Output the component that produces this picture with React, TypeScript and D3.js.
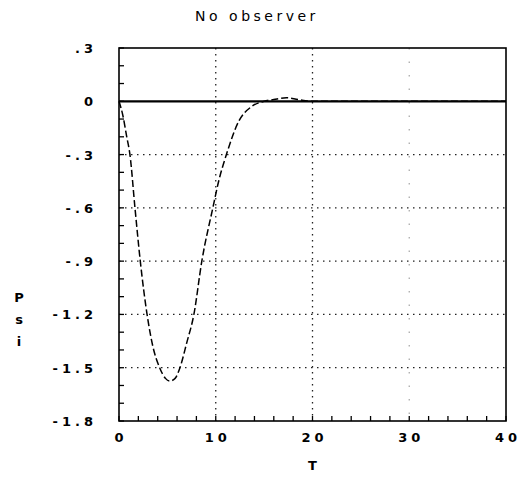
import React from "react";
import * as d3 from "d3";

const titleText = "No observer";
const xLabel = "T";
const yLabelChars = ["P", "s", "i"];

const tValues = [0, 0.4, 0.8, 1.13, 1.65, 2.2, 2.9, 3.5, 4.2, 4.8, 5.25, 5.8, 6.3, 7.0, 7.74, 8.56, 9.7, 10.3, 11.1, 12.4, 13.7, 15, 16, 17.3, 18.5, 20, 25, 30, 35, 40];
const psiValues = [0, -0.08, -0.2, -0.3, -0.6, -0.9, -1.2, -1.38, -1.5, -1.56, -1.575, -1.56, -1.5, -1.36, -1.2, -0.9, -0.6, -0.45, -0.3, -0.11, -0.03, 0, 0.01, 0.02, 0.01, 0, 0, 0, 0, 0];

const yTicks = [0.3, 0, -0.3, -0.6, -0.9, -1.2, -1.5, -1.8];
const yTickLabels = [".3", "0", "-.3", "-.6", "-.9", "-1.2", "-1.5", "-1.8"];
const xTicks = [0, 10, 20, 30, 40];
const xTickLabels = ["0", "10", "20", "30", "40"];
const yGrid = [-0.3, -0.6, -0.9, -1.2, -1.5];
const xGrid = [10, 20, 30];

export default function App() {
  const W = 524, H = 487;
  const left = 119, right = 506, top = 48, bottom = 421;
  const x = d3.scaleLinear().domain([0, 40]).range([left, right]);
  const y = d3.scaleLinear().domain([-1.8, 0.3]).range([bottom, top]);

  const pts: [number, number][] = tValues.map((t, i) => [t, psiValues[i]]);
  const line = d3
    .line<[number, number]>()
    .x((d) => x(d[0]))
    .y((d) => y(d[1]))
    .curve(d3.curveMonotoneX);

  const minorY = d3.range(-18, 4).map((v) => v / 10);
  const minorX = d3.range(0, 41, 2);
  const font = "'DejaVu Sans', sans-serif";

  return (
    <svg width={W} height={H} style={{ position: "absolute", left: 0, top: 0, background: "#fff" }}>
      <rect x={0} y={0} width={W} height={H} fill="#fff" />
      {yGrid.map((v) => (
        <line key={"gy" + v} x1={left} x2={right} y1={y(v)} y2={y(v)} stroke="#222" strokeWidth={1.3} strokeDasharray="1.5,4.5" />
      ))}
      {xGrid.map((v) => (
        <line key={"gx" + v} x1={x(v)} x2={x(v)} y1={top} y2={bottom} stroke={v === 30 ? "#aaa" : "#222"} strokeWidth={1.3} strokeDasharray={v === 30 ? "1.5,12" : "1.5,4.5"} />
      ))}
      {minorY.map((v) => (
        <line key={"ty" + v} x1={left} x2={left + 5} y1={y(v)} y2={y(v)} stroke="#000" strokeWidth={1.3} />
      ))}
      {minorX.map((v) => (
        <line key={"tx" + v} x1={x(v)} x2={x(v)} y1={bottom} y2={bottom - 5} stroke="#000" strokeWidth={1.3} />
      ))}
      <rect x={left} y={top} width={right - left} height={bottom - top} fill="none" stroke="#000" strokeWidth={1.6} />
      <line x1={left} x2={right} y1={y(0)} y2={y(0)} stroke="#000" strokeWidth={2.2} />
      <path d={line(pts) || ""} fill="none" stroke="#000" strokeWidth={1.5} strokeDasharray="7,3" />
      {yTicks.map((v, i) => (
        <text key={"yl" + v} x={97} y={y(v) + 5} textAnchor="end" fontFamily={font} fontWeight="bold" fontSize={13} letterSpacing={4} fill="#000">
          {yTickLabels[i]}
        </text>
      ))}
      {xTicks.map((v, i) => (
        <text key={"xl" + v} x={x(v) + 2} y={442} textAnchor="middle" fontFamily={font} fontWeight="bold" fontSize={13} letterSpacing={4} fill="#000">
          {xTickLabels[i]}
        </text>
      ))}
      <text x={257} y={21} textAnchor="middle" fontFamily={font} fontSize={14} letterSpacing={3.5} fill="#000">
        {titleText}
      </text>
      <text x={x(20)} y={470} textAnchor="middle" fontFamily={font} fontWeight="bold" fontSize={13} fill="#000">
        {xLabel}
      </text>
      {yLabelChars.map((c, i) => (
        <text key={"yc" + i} x={19} y={302 + i * 22} textAnchor="middle" fontFamily={font} fontWeight="bold" fontSize={13} fill="#000">
          {c}
        </text>
      ))}
    </svg>
  );
}
